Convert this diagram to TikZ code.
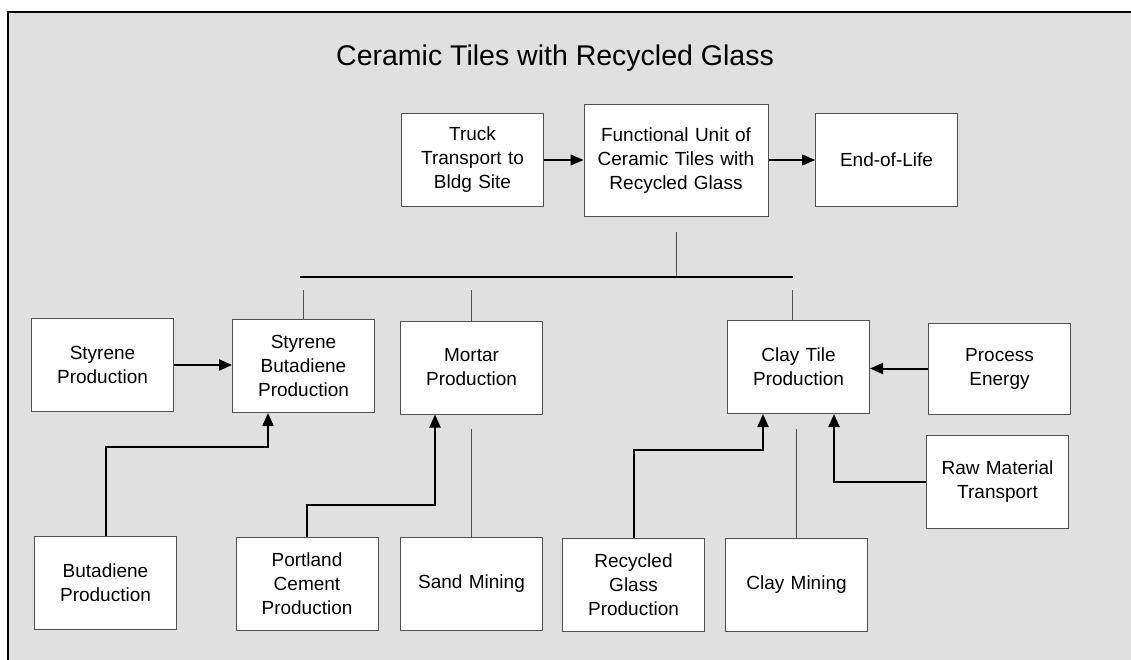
\documentclass[tikz,border=0pt]{standalone}
\usepackage{fontspec}
\setmainfont{Liberation Sans}
\usetikzlibrary{positioning, arrows.meta}
\definecolor{panelgray}{RGB}{224,224,224}
\definecolor{boxline}{RGB}{80,80,80}
\tikzset{
	x=1pt, y=-1pt, % pixel-like units, y runs downwards
	>={Triangle[length=13pt,width=11pt]}, % filled arrow heads
	process/.style={draw=boxline, line width=1pt, fill=white, minimum width=142pt, minimum height=93pt, text width=134pt, align=center, inner sep=0pt, font=\fontsize{19}{24}\selectfont}, % sets the look of each process box
	feed/.style={->, line width=2pt}, % thick input arrows
	link/.style={draw=boxline, line width=1pt}, % thin tree lines
}
\begin{document}
\begin{tikzpicture}
	\useasboundingbox (0,0) rectangle (1131,660);
	\draw[line width=2pt, fill=panelgray] (8,12) rectangle (1150,680);
	\node[font=\fontsize{28.5}{34}\selectfont] (title) at (555,58) {Ceramic Tiles with Recycled Glass};
	% top row
			\node[process] (truck) at (472.5,160) {Truck\\Transport to\\Bldg Site};
			\node[process, minimum width=184pt, minimum height=112pt, text width=176pt] (fu) at (676,161) {Functional Unit of\\Ceramic Tiles with\\Recycled Glass};
			\node[process] (eol) at (886.5,160) {End-of-Life};
	% middle row
			\node[process] (styrene) at (102.5,365) {Styrene\\Production};
			\node[process] (sb) at (303.5,366) {Styrene\\Butadiene\\Production};
			\node[process] (mortar) at (471.5,367.5) {Mortar\\Production};
			\node[process] (claytile) at (798.5,367) {Clay Tile\\Production};
			\node[process, minimum height=91pt] (energy) at (999.5,368.5) {Process\\Energy};
			\node[process] (rawmat) at (997.5,481.5) {Raw Material\\Transport};
	% bottom row
			\node[process] (butadiene) at (105.5,582.5) {Butadiene\\Production};
			\node[process] (portland) at (307,584) {Portland\\Cement\\Production};
			\node[process] (sand) at (471.5,583.5) {Sand Mining};
			\node[process] (recglass) at (633.5,584.5) {Recycled\\Glass\\Production};
			\node[process] (claymin) at (796.5,584.5) {Clay Mining};
	% tree below the functional unit
			\coordinate (fudrop) at (676,232);
			\coordinate (busl) at (300,277);
			\coordinate (busr) at (793,277);
	\draw[link] (fudrop) -- (fudrop |- busl);
	\draw[line width=2pt] (busl) -- (busr);
	\draw[link] (sb.north |- 0,290) -- (sb.north)
			(mortar.north |- 0,290) -- (mortar.north)
			([xshift=-6.5pt]claytile.north |- 0,290) -- ([xshift=-6.5pt]claytile.north);
	% arrows
	\draw[->, line width=1.3pt] (truck) -- (fu.west |- truck);
	\draw[->, line width=1.3pt] (fu.east |- eol) -- (eol);
	\draw[feed] (styrene) -- (sb.west |- styrene);
	\draw[feed] (energy) -- (claytile.east |- energy);
	\draw[feed] (butadiene.north) -- ++(0,-89) -| ([xshift=-35.5pt]sb.south);
	\draw[feed] (portland.north) -- ++(0,-32.5) -| ([xshift=-36.5pt]mortar.south);
	\draw[feed] (recglass.north) -- ++(0,-88) -| ([xshift=-35.5pt]claytile.south);
	\draw[feed] (rawmat.west) -| ([xshift=35.5pt]claytile.south);
	\draw[link] (sand.north) -- ++(0,-108);
	\draw[link] (claymin.north) -- ++(0,-109);
\end{tikzpicture}
\end{document}
